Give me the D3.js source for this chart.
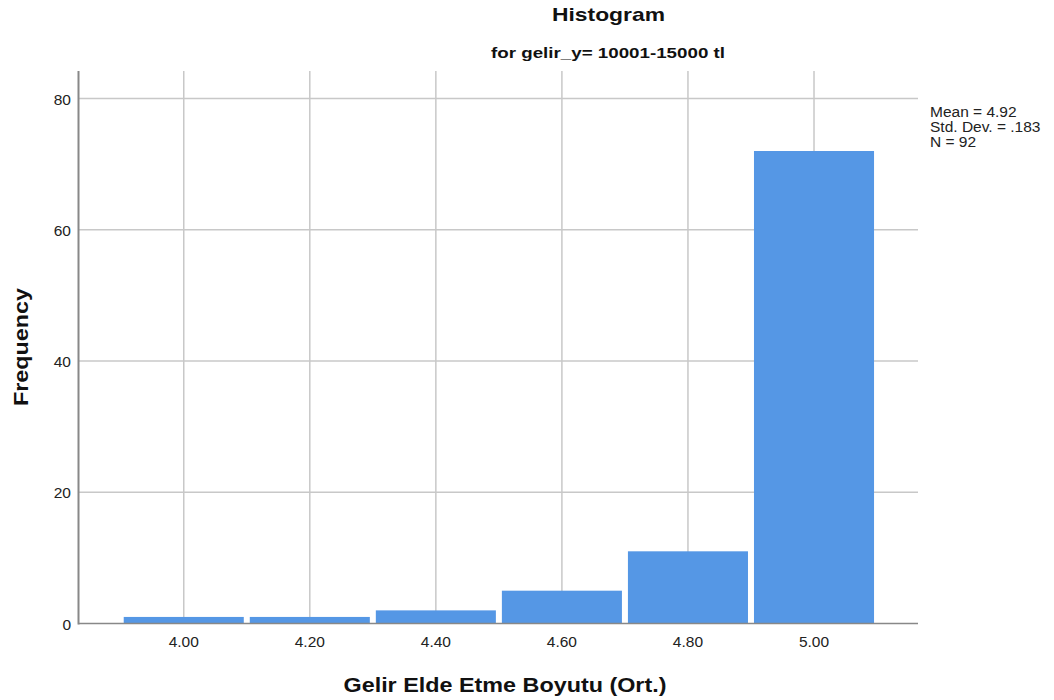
<!DOCTYPE html>
<html><head><meta charset="utf-8">
<script src="https://cdn.jsdelivr.net/npm/d3@7"></script>
<style>body{margin:0;background:#fff;} text{font-family:"Liberation Sans",Arial,sans-serif;}</style>
</head><body><svg id="c" width="1054" height="700"></svg>
<script>
const binStarts = [3.9, 4.1, 4.3, 4.5, 4.7, 4.9];
const binWidth = 0.2;
const frequencies = [1, 1, 2, 5, 11, 72];
const xTicks = [4.0, 4.2, 4.4, 4.6, 4.8, 5.0];
const yTicks = [0, 20, 40, 60, 80];
const statsLines = ["Mean = 4.92", "Std. Dev. = .183", "N = 92"];

const svg = d3.select("#c");
const L = 78.5, R = 918, T = 71, B = 623.5;
const x = d3.scaleLinear().domain([3.833, 5.165]).range([L, R]);
const y = d3.scaleLinear().domain([0, 80]).range([B, 98.5]);

// grid
svg.append("g").selectAll("line").data(yTicks.filter(d=>d>0)).join("line")
  .attr("x1", L).attr("x2", R).attr("y1", d=>y(d)).attr("y2", d=>y(d))
  .attr("stroke", "#c8c8c8").attr("stroke-width", 1.5);
svg.append("g").selectAll("line").data(xTicks).join("line")
  .attr("x1", d=>x(d)).attr("x2", d=>x(d)).attr("y1", T).attr("y2", B)
  .attr("stroke", "#c8c8c8").attr("stroke-width", 1.5);

// bars
svg.append("g").selectAll("rect").data(frequencies).join("rect")
  .attr("x", (d,i)=>x(binStarts[i]) + 3)
  .attr("width", (d,i)=>x(binStarts[i]+binWidth) - x(binStarts[i]) - 6)
  .attr("y", d=>y(d))
  .attr("height", d=>B - y(d))
  .attr("fill", "#5597e5");

// axes lines
svg.append("line").attr("x1", L).attr("x2", L).attr("y1", T).attr("y2", B+1)
  .attr("stroke", "#888").attr("stroke-width", 2);
svg.append("line").attr("x1", L).attr("x2", R).attr("y1", B).attr("y2", B)
  .attr("stroke", "#888").attr("stroke-width", 1.5);

// tick labels
svg.append("g").selectAll("text").data(yTicks).join("text")
  .attr("x", 71).attr("y", d=>y(d)+6).attr("text-anchor","end")
  .attr("font-size", 15.5).attr("fill","#222").text(d=>d);
svg.append("g").selectAll("text").data(xTicks).join("text")
  .attr("x", d=>x(d)).attr("y", 647).attr("text-anchor","middle")
  .attr("font-size", 15.5).attr("fill","#222").text(d=>d3.format(".2f")(d));

// titles
svg.append("text").attr("x", 608.5).attr("y", 21).attr("text-anchor","middle")
  .attr("font-size", 19).attr("font-weight","bold").attr("fill","#111")
  .attr("textLength", 113).attr("lengthAdjust","spacingAndGlyphs").text("Histogram");
svg.append("text").attr("x", 608).attr("y", 58).attr("text-anchor","middle")
  .attr("font-size", 14.5).attr("font-weight","bold").attr("fill","#111")
  .attr("textLength", 234).attr("lengthAdjust","spacingAndGlyphs").text("for gelir_y= 10001-15000 tl");
svg.append("text").attr("x", 505).attr("y", 692).attr("text-anchor","middle")
  .attr("font-size", 19.5).attr("font-weight","bold").attr("fill","#111")
  .attr("textLength", 323).attr("lengthAdjust","spacingAndGlyphs").text("Gelir Elde Etme Boyutu (Ort.)");
svg.append("text").attr("transform","translate(28,347) rotate(-90)").attr("text-anchor","middle")
  .attr("font-size", 19.5).attr("font-weight","bold").attr("fill","#111")
  .attr("textLength", 118).attr("lengthAdjust","spacingAndGlyphs").text("Frequency");

// stats
svg.append("g").selectAll("text").data(statsLines).join("text")
  .attr("x", 930).attr("y", (d,i)=>117 + i*15)
  .attr("font-size", 15.5).attr("fill","#222").text(d=>d);
</script></body></html>
